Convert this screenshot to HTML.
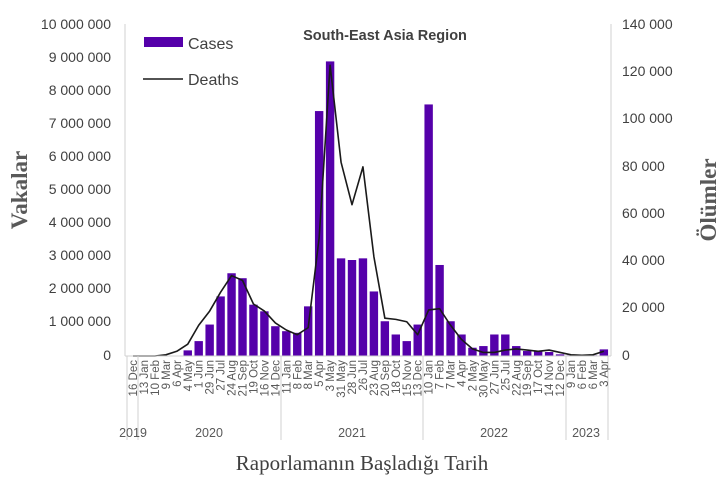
<!DOCTYPE html>
<html><head><meta charset="utf-8"><style>
html,body{margin:0;padding:0;background:#fff;}
svg{display:block;}
.t{font-family:"Liberation Sans",sans-serif;font-size:14px;fill:#404040;}
.d{font-family:"Liberation Sans",sans-serif;font-size:11.5px;fill:#595959;}
.y{font-family:"Liberation Sans",sans-serif;font-size:12.5px;fill:#595959;}
</style></head><body>
<svg id="s" width="724" height="480" xmlns="http://www.w3.org/2000/svg">
<rect width="724" height="480" fill="#fff"/>
<g id="bars"></g>
<polyline id="ln" fill="none" stroke="#1a1a1a" stroke-width="1.6" stroke-linejoin="round"/>
<line x1="125" y1="24" x2="125" y2="356" stroke="#d0d0d0"/>
<line x1="611" y1="24" x2="611" y2="356" stroke="#d0d0d0"/>
<line x1="125" y1="356" x2="611" y2="356" stroke="#d0d0d0"/>
<g stroke="#d0d0d0">
<line x1="127" y1="356" x2="127" y2="440"/><line x1="138" y1="356" x2="138" y2="440"/>
<line x1="281" y1="356" x2="281" y2="440"/><line x1="423" y1="356" x2="423" y2="440"/>
<line x1="566" y1="356" x2="566" y2="440"/><line x1="608" y1="356" x2="608" y2="440"/>
</g>
<g class="t" text-anchor="end">
<text x="111" y="29">10 000 000</text><text x="111" y="62">9 000 000</text><text x="111" y="95">8 000 000</text>
<text x="111" y="128">7 000 000</text><text x="111" y="161">6 000 000</text><text x="111" y="194">5 000 000</text>
<text x="111" y="227">4 000 000</text><text x="111" y="260">3 000 000</text><text x="111" y="293">2 000 000</text>
<text x="111" y="326">1 000 000</text><text x="111" y="360">0</text>
</g>
<g class="t">
<text x="622" y="29">140 000</text><text x="622" y="76">120 000</text><text x="622" y="123">100 000</text>
<text x="622" y="171">80 000</text><text x="622" y="218">60 000</text><text x="622" y="265">40 000</text>
<text x="622" y="312">20 000</text><text x="622" y="360">0</text>
</g>
<g id="dl" class="d"></g>
<g class="y" text-anchor="middle">
<text x="133" y="437">2019</text><text x="209" y="437">2020</text><text x="352" y="437">2021</text>
<text x="494" y="437">2022</text><text x="586" y="437">2023</text>
</g>
<text x="0" y="0" transform="translate(27,190) rotate(-90)" text-anchor="middle" style="font-family:'Liberation Serif',serif;font-size:23px;font-weight:bold;fill:#595959">Vakalar</text>
<text x="0" y="0" transform="translate(716,200) rotate(-90)" text-anchor="middle" style="font-family:'Liberation Serif',serif;font-size:23px;font-weight:bold;fill:#595959">Ölümler</text>
<text x="362" y="470" text-anchor="middle" style="font-family:'Liberation Serif',serif;font-size:21px;fill:#404040">Raporlamanın Başladığı Tarih</text>
<text x="385" y="40" text-anchor="middle" style="font-family:'Liberation Sans',sans-serif;font-size:14.5px;font-weight:bold;fill:#404040">South-East Asia Region</text>
<rect x="144" y="37" width="39" height="10" fill="#5500aa"/>
<text x="188" y="49" style="font-family:'Liberation Sans',sans-serif;font-size:16px;fill:#404040">Cases</text>
<line x1="143" y1="79" x2="183" y2="79" stroke="#1a1a1a" stroke-width="1.6"/>
<text x="188" y="85" style="font-family:'Liberation Sans',sans-serif;font-size:16px;fill:#404040">Deaths</text>
</svg>
<script>
var labels=["16 Dec","13 Jan","10 Feb","9 Mar","6 Apr","4 May","1 Jun","29 Jun","27 Jul","24 Aug","21 Sep","19 Oct","16 Nov","14 Dec","11 Jan","8 Feb","8 Mar","5 Apr","3 May","31 May","28 Jun","26 Jul","23 Aug","20 Sep","18 Oct","15 Nov","13 Dec","10 Jan","7 Feb","7 Mar","4 Apr","2 May","30 May","27 Jun","25 Jul","22 Aug","19 Sep","17 Oct","14 Nov","12 Dec","9 Jan","6 Feb","6 Mar","3 Apr"];
var cases=[0,0,0,0,0,0.17,0.45,0.95,1.8,2.5,2.35,1.55,1.35,0.9,0.75,0.7,1.5,7.4,8.9,2.95,2.9,2.95,1.95,1.05,0.65,0.45,0.95,7.6,2.75,1.05,0.65,0.25,0.3,0.65,0.65,0.3,0.15,0.15,0.12,0.05,0.02,0.02,0.02,0.2];
var deaths=[0,0,0,0.5,2,5,13,19,27,34,32,22,19,14,11,9,12,50,123,82,64,80,42,16,15.5,14.5,9,19.5,20,13,7,3,1.5,1.5,2.5,3,2.5,2,2.5,1.5,0.5,0.3,0.5,2];
var ns="http://www.w3.org/2000/svg",b=document.getElementById("bars"),dl=document.getElementById("dl"),pts=[];
for(var i=0;i<44;i++){var x=133+i*10.95;
 if(cases[i]>0){var h=cases[i]*33.1,r=document.createElementNS(ns,"rect");r.setAttribute("x",x-4.2);r.setAttribute("width",8.4);r.setAttribute("y",356-h);r.setAttribute("height",h);r.setAttribute("fill","#5500aa");b.appendChild(r);}
 pts.push(x+","+(356-deaths[i]*2.364));
 var t=document.createElementNS(ns,"text");t.setAttribute("transform","translate("+(x+4)+",360) rotate(-90)");t.setAttribute("text-anchor","end");t.textContent=labels[i];dl.appendChild(t);}
document.getElementById("ln").setAttribute("points",pts.join(" "));
</script>
</body></html>
